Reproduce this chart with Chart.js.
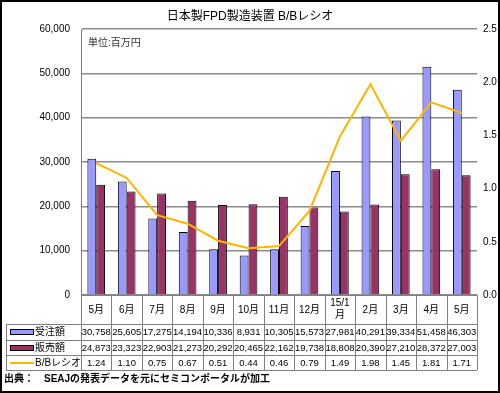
<!DOCTYPE html>
<html>
<head>
<meta charset="utf-8">
<script src="https://cdn.jsdelivr.net/npm/chart.js"></script>
<style>
  body { margin: 0; background: #fff; }
  canvas { display: block; }
</style>
</head>
<body>
<canvas id="bbChart" width="500" height="393"></canvas>
<script>
// data
const months = ['5月', '6月', '7月', '8月', '9月', '10月', '11月', '12月', ['15/1', '月'], '2月', '3月', '4月', '5月'];
const orders = [30758, 25605, 17275, 14194, 10336, 8931, 10305, 15573, 27981, 40291, 39334, 51458, 46303];
const sales = [24873, 23323, 22903, 21273, 20292, 20465, 22162, 19738, 18808, 20390, 27210, 28372, 27003];
const bbRatio = [1.24, 1.10, 0.75, 0.67, 0.51, 0.44, 0.46, 0.79, 1.49, 1.98, 1.45, 1.81, 1.71];
const seriesNames = ['受注額', '販売額', 'B/Bレシオ'];

const FONT = '"Liberation Sans", "Noto Sans CJK JP", sans-serif';
const GRID = '#808080';

// data table under the plot + frame and notes
const tablePlugin = {
    id: 'dataTable',
    afterDraw: (chart) => {
        const ctx = chart.ctx;
        const area = chart.chartArea;
        const x = chart.scales.x;
        const colW = (area.right - area.left) / months.length;
        const rows = [324, 340, 355, 370];
        const top = area.bottom;
        const tableLeft = 6;

        ctx.save();
        ctx.strokeStyle = GRID;
        ctx.lineWidth = 1;
        ctx.beginPath();
        ctx.moveTo(area.left, top + 0.5);
        ctx.lineTo(area.right, top + 0.5);
        rows.forEach(y => {
            ctx.moveTo(tableLeft, y + 0.5);
            ctx.lineTo(area.right, y + 0.5);
        });
        for (let i = 0; i <= months.length; i++) {
            const bx = Math.round(area.left + i * colW) + 0.5;
            ctx.moveTo(bx, top);
            ctx.lineTo(bx, rows[3]);
        }
        ctx.moveTo(tableLeft + 0.5, rows[0]);
        ctx.lineTo(tableLeft + 0.5, rows[3]);
        ctx.stroke();

        ctx.fillStyle = '#000';
        ctx.textAlign = 'center';
        ctx.textBaseline = 'middle';
        ctx.font = '10px ' + FONT;
        months.forEach((m, i) => {
            const cx = x.getPixelForValue(i);
            if (Array.isArray(m)) {
                ctx.fillText(m[0], cx, 303);
                ctx.fillText(m[1], cx, 315);
            } else {
                ctx.fillText(m, cx, 310);
            }
        });
        ctx.font = '9.5px ' + FONT;
        orders.forEach((v, i) => ctx.fillText(v.toLocaleString('en-US'), x.getPixelForValue(i), 332.5));
        sales.forEach((v, i) => ctx.fillText(v.toLocaleString('en-US'), x.getPixelForValue(i), 348));
        bbRatio.forEach((v, i) => ctx.fillText(v.toFixed(2), x.getPixelForValue(i), 363));

        // legend keys
        ctx.lineWidth = 1;
        ctx.fillStyle = '#9999FF';
        ctx.fillRect(10, 330, 23, 4);
        ctx.strokeStyle = '#000';
        ctx.strokeRect(10.5, 329.5, 23, 5);
        ctx.fillStyle = '#993366';
        ctx.fillRect(10, 346, 23, 4);
        ctx.strokeRect(10.5, 345.5, 23, 5);
        ctx.strokeStyle = '#FFB400';
        ctx.lineWidth = 2;
        ctx.beginPath();
        ctx.moveTo(10, 363);
        ctx.lineTo(34, 363);
        ctx.stroke();

        ctx.fillStyle = '#000';
        ctx.textAlign = 'left';
        ctx.font = '10px ' + FONT;
        ctx.fillText(seriesNames[0], 35, 332.5);
        ctx.fillText(seriesNames[1], 35, 348);
        ctx.fillText(seriesNames[2], 35, 363);

        ctx.font = 'bold 10px ' + FONT;
        ctx.fillText('出典：　SEAJの発表データを元にセミコンポータルが加工', 4, 379);

        ctx.font = '10px ' + FONT;
        ctx.fillStyle = '#333';
        ctx.fillText('単位:百万円', 88, 43);

        ctx.strokeStyle = '#000';
        ctx.lineWidth = 2;
        ctx.strokeRect(1, 1, 498, 391);
        ctx.restore();
    }
};

new Chart(document.getElementById('bbChart'), {
    type: 'bar',
    data: {
        labels: months,
        datasets: [
            {
                type: 'line',
                label: seriesNames[2],
                data: bbRatio,
                yAxisID: 'y1',
                borderColor: '#FFB400',
                borderWidth: 2,
                tension: 0,
                pointRadius: 0,
                fill: false,
                order: 0
            },
            {
                label: seriesNames[0],
                data: orders,
                yAxisID: 'y',
                backgroundColor: '#9999FF',
                borderColor: '#000',
                borderWidth: 1,
                categoryPercentage: 0.58,
                barPercentage: 1.0,
                order: 1
            },
            {
                label: seriesNames[1],
                data: sales,
                yAxisID: 'y',
                backgroundColor: '#993366',
                borderColor: '#000',
                borderWidth: 1,
                categoryPercentage: 0.58,
                barPercentage: 1.0,
                order: 1
            }
        ]
    },
    options: {
        responsive: false,
        animation: false,
        layout: { padding: { top: 0, bottom: 98, left: 0, right: 0 } },
        plugins: {
            legend: { display: false },
            tooltip: { enabled: false },
            title: {
                display: true,
                text: '日本製FPD製造装置 B/Bレシオ',
                color: '#000',
                font: { family: FONT, size: 12, weight: 'normal' },
                padding: { top: 9, bottom: 5.6 }
            }
        },
        scales: {
            x: {
                display: false
            },
            y: {
                position: 'left',
                min: 0,
                max: 60000,
                ticks: {
                    stepSize: 10000,
                    padding: 11,
                    color: '#000',
                    font: { family: FONT, size: 10 },
                    callback: v => v.toLocaleString('en-US')
                },
                grid: { color: '#8c8c8c', lineWidth: 1.5, drawTicks: false },
                border: { display: true, color: GRID },
                afterFit: s => { s.width = 81; }
            },
            y1: {
                position: 'right',
                min: 0,
                max: 2.5,
                ticks: {
                    stepSize: 0.5,
                    padding: 6,
                    color: '#000',
                    font: { family: FONT, size: 10 },
                    callback: v => v.toFixed(1)
                },
                grid: { display: false, drawTicks: false },
                border: { display: false },
                afterFit: s => { s.width = 23; }
            }
        }
    },
    plugins: [tablePlugin]
});
</script>
</body>
</html>
